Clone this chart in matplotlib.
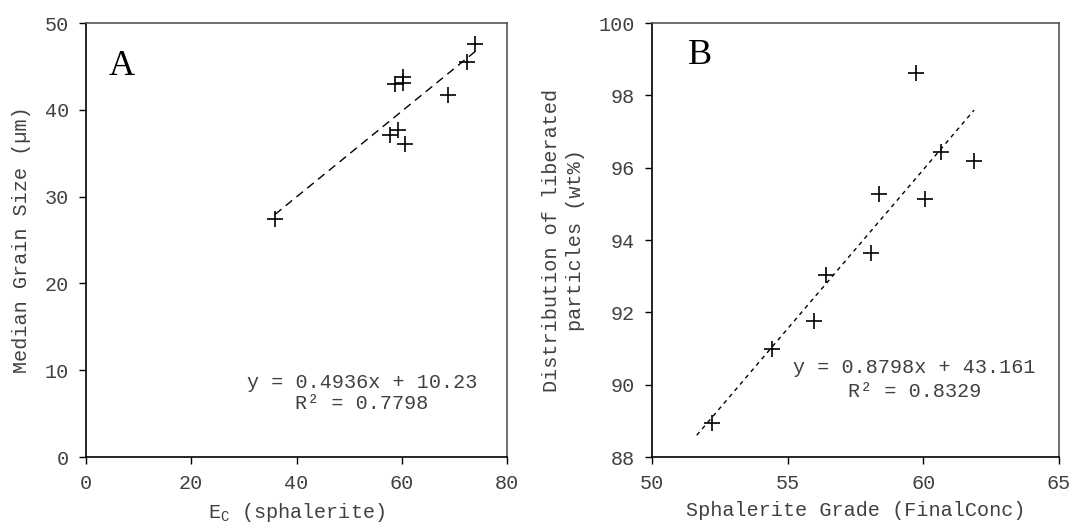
import matplotlib
matplotlib.use("Agg")
import matplotlib.pyplot as plt

plt.rcParams['font.family'] = ['Liberation Mono', 'DejaVu Sans Mono']
plt.rcParams['mathtext.fontset'] = 'custom'
plt.rcParams['mathtext.rm'] = 'Liberation Mono'

# Panel A: E_C (sphalerite) vs median grain size
ec_a = [35.9, 57.8, 59.3, 60.6, 58.7, 60.2, 60.2, 68.8, 72.4, 73.9]
size_a = [27.4, 37.1, 37.7, 36.1, 43.0, 43.1, 43.8, 41.7, 45.5, 47.6]
slope_a, icpt_a = 0.4936, 10.23
fit_a_x = [35.9, 73.9]

# Panel B: sphalerite grade vs liberated particles
grade_b = [52.20, 54.41, 55.97, 56.40, 58.07, 58.38, 60.06, 60.64, 61.87, 59.73]
lib_b = [88.93, 90.98, 91.77, 93.04, 93.63, 95.27, 95.13, 96.44, 96.18, 98.62]
slope_b, icpt_b = 0.8798, 43.161
fit_b_x = [51.65, 61.87]

FS = 14.5
TXT = '#404040'
fig = plt.figure(figsize=(10.72, 5.25), dpi=100)
axA = fig.add_axes([0.0802, 0.1295, 0.3928, 0.8265])
axB = fig.add_axes([0.6082, 0.1295, 0.3797, 0.8265])


def style(ax):
    for s in ['top', 'right']:
        ax.spines[s].set_color('#555555')
    for s in ['left', 'bottom']:
        ax.spines[s].set_color('black')
    for s in ax.spines.values():
        s.set_linewidth(1.2)
    ax.tick_params(direction='out', length=5, width=1, labelsize=FS,
                   labelcolor=TXT, pad=7)


# ---- A ----
axA.plot(ec_a, size_a, linestyle='none', marker='+', color='black',
         markersize=11, markeredgewidth=1.2)
axA.plot(fit_a_x, [slope_a * x + icpt_a for x in fit_a_x], color='black',
         linewidth=1, dashes=(6, 4))
axA.set_xlim(0, 80)
axA.set_ylim(0, 50)
axA.set_xticks([0, 20, 40, 60, 80])
axA.set_yticks([0, 10, 20, 30, 40, 50])
axA.set_xlabel('E$_\\mathregular{C}$ (sphalerite)', fontsize=FS, color=TXT, labelpad=6)
axA.set_ylabel('Median Grain Size (µm)', fontsize=FS, color=TXT, labelpad=10)
axA.text(0.085, 0.9, 'A', transform=axA.transAxes, fontsize=26,
         family='Liberation Serif', va='center', ha='center')
axA.text(0.655, 0.147, 'y = 0.4936x + 10.23\nR² = 0.7798', transform=axA.transAxes,
         fontsize=FS, ha='center', va='center', color=TXT, linespacing=1.1)
style(axA)

# ---- B ----
axB.plot(grade_b, lib_b, linestyle='none', marker='+', color='black',
         markersize=11, markeredgewidth=1.2)
axB.plot(fit_b_x, [slope_b * x + icpt_b for x in fit_b_x], color='black',
         linewidth=1, dashes=(3, 3))
axB.set_xlim(50, 65)
axB.set_ylim(88, 100)
axB.set_xticks([50, 55, 60, 65])
axB.set_yticks([88, 90, 92, 94, 96, 98, 100])
axB.set_xlabel('Sphalerite Grade (FinalConc)', fontsize=FS, color=TXT, labelpad=6)
axB.set_ylabel('Distribution of liberated\nparticles (wt%)', fontsize=FS,
               color=TXT, labelpad=10, linespacing=1.35)
axB.text(0.118, 0.925, 'B', transform=axB.transAxes, fontsize=26,
         family='Liberation Serif', va='center', ha='center')
axB.text(0.645, 0.178, 'y = 0.8798x + 43.161\nR² = 0.8329', transform=axB.transAxes,
         fontsize=FS, ha='center', va='center', color=TXT, linespacing=1.35)
style(axB)

fig.savefig('out.png', dpi=100)
